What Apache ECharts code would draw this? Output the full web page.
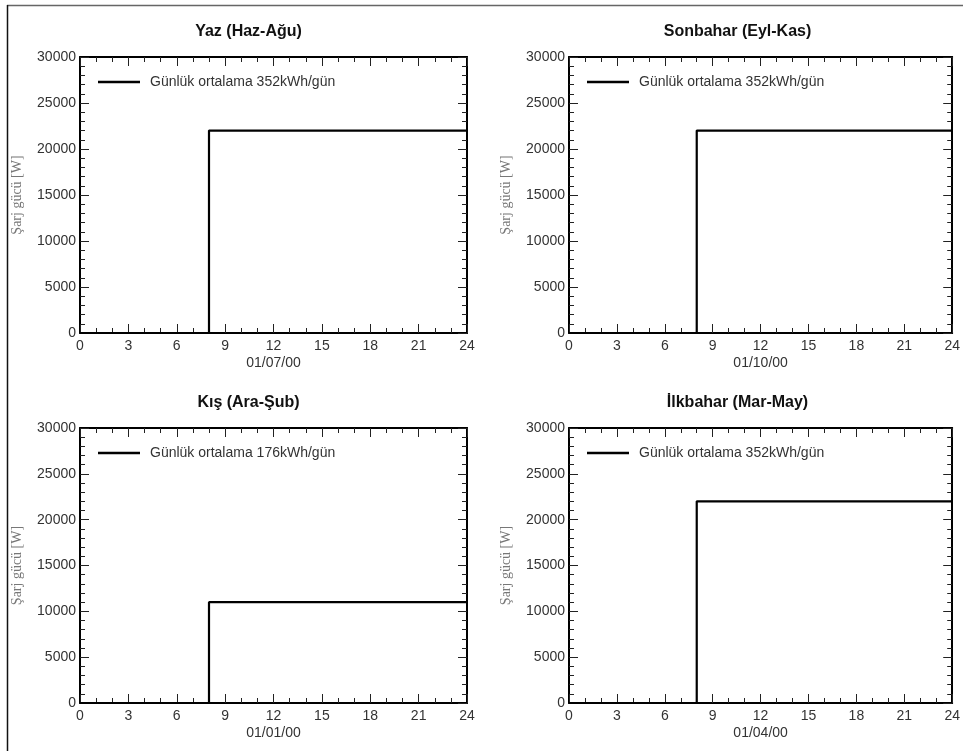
<!DOCTYPE html>
<html>
<head>
<meta charset="utf-8">
<script src="https://cdn.jsdelivr.net/npm/echarts@6/dist/echarts.min.js"></script>
<style>
html,body{margin:0;padding:0;background:#fff;}
#chart{width:963px;height:751px;}
</style>
</head>
<body>
<div id="chart"></div>
<script>
// ---- data ----
const panelTitles = ['Yaz (Haz-Ağu)', 'Sonbahar (Eyl-Kas)', 'Kış (Ara-Şub)', 'İlkbahar (Mar-May)'];
const dateLabels = ['01/07/00', '01/10/00', '01/01/00', '01/04/00'];
const legendNames = ['Günlük ortalama 352kWh/gün', 'Günlük ortalama 352kWh/gün', 'Günlük ortalama 176kWh/gün', 'Günlük ortalama 352kWh/gün'];
const hours = [0, 8, 24];
const yazValues = [0, 22000, 22000];
const sonbaharValues = [0, 22000, 22000];
const kisValues = [0, 11000, 11000];
const ilkbaharValues = [0, 22000, 22000];
const yAxisName = 'Şarj gücü [W]';
const xMin = 0, xMax = 24, xInterval = 3;
const yMin = 0, yMax = 30000, yInterval = 5000;

const allValues = [yazValues, sonbaharValues, kisValues, ilkbaharValues];

// ---- layout ----
const grids = [
  {left: 80, top: 57, width: 387, height: 276},
  {left: 569, top: 57, width: 387, height: 276},
  {left: 80, top: 428, width: 387, height: 275},
  {left: 569, top: 428, width: 387, height: 275}
];
const sans = 'Liberation Sans, Arial, sans-serif';
const axisLineStyle = {color: '#000', width: 2};

const option = {
  animation: false,
  backgroundColor: '#fff',
  title: [], legend: [], grid: [], xAxis: [], yAxis: [], series: [],
  graphic: [
    {type: 'line', shape: {x1: 7, y1: 5.5, x2: 963, y2: 5.5}, style: {stroke: '#666', lineWidth: 1.5}},
    {type: 'line', shape: {x1: 7.5, y1: 5, x2: 7.5, y2: 751}, style: {stroke: '#111', lineWidth: 1.5}}
  ]
};

grids.forEach((g, i) => {
  const cx = g.left + g.width / 2 - 25;
  option.grid.push({left: g.left, top: g.top, width: g.width, height: g.height, containLabel: false});
  option.title.push({
    text: panelTitles[i], left: cx, textAlign: 'center', top: g.top - 33, padding: 0,
    textStyle: {fontFamily: sans, fontSize: 16, fontWeight: 'bold', color: '#111'}
  });
  option.legend.push({
    data: [legendNames[i]], left: g.left + 18, top: g.top + 18, padding: 0,
    icon: 'rect', itemWidth: 42, itemHeight: 2.5, selectedMode: false,
    textStyle: {fontFamily: sans, fontSize: 14, color: '#333', padding: [0, 0, 0, 5]}
  });
  const xBase = {
    type: 'value', gridIndex: i, min: xMin, max: xMax, interval: xInterval,
    splitLine: {show: false},
    axisLine: {onZero: false, lineStyle: axisLineStyle},
    axisTick: {inside: true, length: 9, lineStyle: {color: '#222', width: 1}},
    minorTick: {show: true, splitNumber: 3, length: 5, lineStyle: {color: '#222', width: 1}},
    minorSplitLine: {show: false}
  };
  option.xAxis.push(Object.assign({}, xBase, {
    position: 'bottom',
    axisLabel: {margin: 6, fontFamily: sans, fontSize: 14, color: '#333'},
    name: dateLabels[i], nameLocation: 'middle', nameGap: 23,
    nameTextStyle: {fontFamily: sans, fontSize: 14, color: '#333'}
  }));
  option.xAxis.push(Object.assign({}, xBase, {position: 'top', axisLabel: {show: false}}));
  const yBase = {
    type: 'value', gridIndex: i, min: yMin, max: yMax, interval: yInterval,
    splitLine: {show: false},
    axisLine: {onZero: false, lineStyle: axisLineStyle},
    axisTick: {inside: true, length: 9, lineStyle: {color: '#222', width: 1}},
    minorTick: {show: true, splitNumber: 5, length: 5, lineStyle: {color: '#222', width: 1}},
    minorSplitLine: {show: false}
  };
  option.yAxis.push(Object.assign({}, yBase, {
    position: 'left',
    axisLabel: {margin: 4, fontFamily: sans, fontSize: 14, color: '#333', formatter: v => String(v)},
    name: yAxisName, nameLocation: 'middle', nameGap: 56,
    nameTextStyle: {fontFamily: 'Liberation Serif, Times New Roman, serif', fontSize: 14, color: '#777'}
  }));
  option.yAxis.push(Object.assign({}, yBase, {position: 'right', axisLabel: {show: false}}));
  option.series.push({
    type: 'line', name: legendNames[i], xAxisIndex: 2 * i, yAxisIndex: 2 * i,
    step: 'end', symbol: 'none',
    lineStyle: {color: '#000', width: 2.2}, itemStyle: {color: '#000'},
    data: hours.map((h, k) => [h, allValues[i][k]])
  });
});

const chart = echarts.init(document.getElementById('chart'), null, {renderer: 'canvas'});
chart.setOption(option);
</script>
</body>
</html>
